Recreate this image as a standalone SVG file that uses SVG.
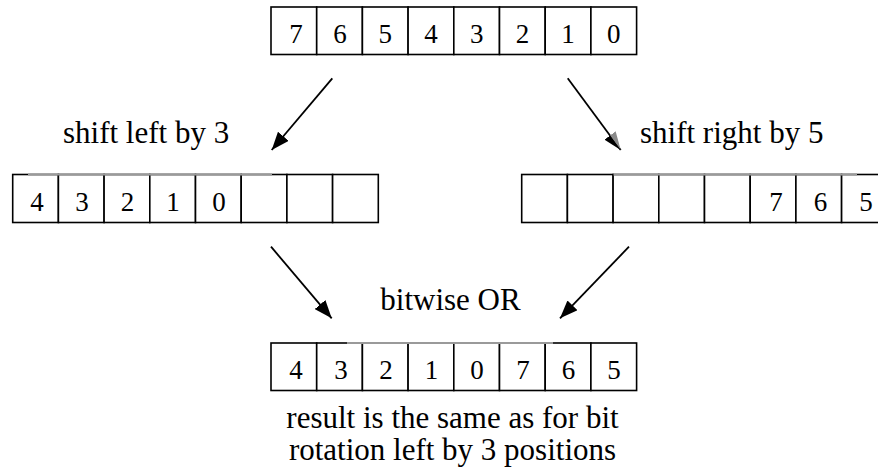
<svg xmlns="http://www.w3.org/2000/svg" width="878" height="474" viewBox="0 0 878 474">
  <style>
    .cell { fill: #ffffff; stroke: #000000; stroke-width: 1.6; }
    .edge-soft { stroke: #9a9a9a; stroke-width: 1.8; fill: none; }
    .digit { font-family: "Liberation Serif", Tinos, "Times New Roman", Times, "DejaVu Serif", serif; font-size: 27px; fill: #000000; text-anchor: middle; }
    .label { font-family: "Liberation Serif", Tinos, "Times New Roman", Times, "DejaVu Serif", serif; font-size: 31px; fill: #000000; }
    .conn { stroke: #000000; stroke-width: 1.8; fill: none; }
  </style>
  <defs>
    <marker id="head" viewBox="0 0 18 14" refX="18" refY="7" markerWidth="18" markerHeight="14" markerUnits="userSpaceOnUse" orient="auto">
      <path d="M0,0 L18,7 L0,14 z" fill="#000000"/>
    </marker>
    <marker id="head-split" viewBox="0 0 18 14" refX="18" refY="7" markerWidth="18" markerHeight="14" markerUnits="userSpaceOnUse" orient="auto">
      <path d="M0,0 L18,7 L0,7 z" fill="#8a8a8a"/>
      <path d="M0,7 L18,7 L0,14 z" fill="#000000"/>
    </marker>
  </defs>

  <!-- original byte: bits 7..0 -->
  <g id="byte-original">
    <rect class="cell" x="271" y="7" width="45.7" height="47.5"/>
    <rect class="cell" x="316.7" y="7" width="45.7" height="47.5"/>
    <rect class="cell" x="362.4" y="7" width="45.7" height="47.5"/>
    <rect class="cell" x="408.1" y="7" width="45.7" height="47.5"/>
    <rect class="cell" x="453.8" y="7" width="45.7" height="47.5"/>
    <rect class="cell" x="499.5" y="7" width="45.7" height="47.5"/>
    <rect class="cell" x="545.2" y="7" width="45.7" height="47.5"/>
    <rect class="cell" x="590.9" y="7" width="45.7" height="47.5"/>
    <text class="digit" x="296" y="43">7</text>
    <text class="digit" x="340" y="43">6</text>
    <text class="digit" x="385.3" y="43">5</text>
    <text class="digit" x="431" y="43">4</text>
    <text class="digit" x="476.7" y="43">3</text>
    <text class="digit" x="522.4" y="43">2</text>
    <text class="digit" x="568.1" y="43">1</text>
    <text class="digit" x="613.8" y="43">0</text>
  </g>

  <!-- shifted left by 3 -->
  <g id="byte-shl">
    <rect class="cell" x="12.7" y="174.5" width="45.7" height="48"/>
    <rect class="cell" x="58.4" y="174.5" width="45.7" height="48"/>
    <rect class="cell" x="104.1" y="174.5" width="45.7" height="48"/>
    <rect class="cell" x="149.8" y="174.5" width="45.7" height="48"/>
    <rect class="cell" x="195.5" y="174.5" width="45.7" height="48"/>
    <rect class="cell" x="241.2" y="174.5" width="45.7" height="48"/>
    <rect class="cell" x="286.9" y="174.5" width="45.7" height="48"/>
    <rect class="cell" x="332.6" y="174.5" width="45.7" height="48"/>
    <line class="edge-soft" x1="28" y1="174.5" x2="272" y2="174.5"/>
    <text class="digit" x="37" y="211">4</text>
    <text class="digit" x="82" y="211">3</text>
    <text class="digit" x="127.5" y="211">2</text>
    <text class="digit" x="173" y="211">1</text>
    <text class="digit" x="219" y="211">0</text>
  </g>

  <!-- shifted right by 5 -->
  <g id="byte-shr">
    <rect class="cell" x="521.7" y="174.5" width="45.7" height="48"/>
    <rect class="cell" x="567.4" y="174.5" width="45.7" height="48"/>
    <rect class="cell" x="613.1" y="174.5" width="45.7" height="48"/>
    <rect class="cell" x="658.8" y="174.5" width="45.7" height="48"/>
    <rect class="cell" x="704.5" y="174.5" width="45.7" height="48"/>
    <rect class="cell" x="750.2" y="174.5" width="45.7" height="48"/>
    <rect class="cell" x="795.9" y="174.5" width="45.7" height="48"/>
    <rect class="cell" x="841.6" y="174.5" width="45.7" height="48"/>
    <line class="edge-soft" x1="613.5" y1="174.5" x2="857" y2="174.5"/>
    <text class="digit" x="776" y="211">7</text>
    <text class="digit" x="820.5" y="211">6</text>
    <text class="digit" x="866" y="211">5</text>
  </g>

  <!-- OR result -->
  <g id="byte-result">
    <rect class="cell" x="271" y="343" width="45.7" height="47.5"/>
    <rect class="cell" x="316.7" y="343" width="45.7" height="47.5"/>
    <rect class="cell" x="362.4" y="343" width="45.7" height="47.5"/>
    <rect class="cell" x="408.1" y="343" width="45.7" height="47.5"/>
    <rect class="cell" x="453.8" y="343" width="45.7" height="47.5"/>
    <rect class="cell" x="499.5" y="343" width="45.7" height="47.5"/>
    <rect class="cell" x="545.2" y="343" width="45.7" height="47.5"/>
    <rect class="cell" x="590.9" y="343" width="45.7" height="47.5"/>
    <line class="edge-soft" x1="347" y1="343" x2="553" y2="343"/>
    <text class="digit" x="296" y="379">4</text>
    <text class="digit" x="341" y="379">3</text>
    <text class="digit" x="386" y="379">2</text>
    <text class="digit" x="431.5" y="379">1</text>
    <text class="digit" x="477" y="379">0</text>
    <text class="digit" x="523" y="379">7</text>
    <text class="digit" x="568.5" y="379">6</text>
    <text class="digit" x="614" y="379">5</text>
  </g>

  <!-- operation labels -->
  <g id="label-shl">
    <text class="label" x="63" y="143">shift left by 3</text>
  </g>
  <g id="label-shr">
    <text class="label" x="640" y="143">shift right by 5</text>
  </g>
  <g id="label-or">
    <text class="label" x="450.5" y="310" text-anchor="middle">bitwise OR</text>
  </g>
  <g id="label-result">
    <text class="label" x="452.5" y="428" text-anchor="middle">result is the same as for bit</text>
    <text class="label" x="452.5" y="460" text-anchor="middle">rotation left by 3 positions</text>
  </g>

  <!-- connectors -->
  <g id="connectors">
    <line class="conn" x1="332.3" y1="78.3" x2="271.7" y2="150" marker-end="url(#head)"/>
    <line class="conn" x1="567.7" y1="78.3" x2="620.7" y2="150" marker-end="url(#head-split)"/>
    <line class="conn" x1="271" y1="246.7" x2="331.7" y2="318.3" marker-end="url(#head)"/>
    <line class="conn" x1="629" y1="246.7" x2="560" y2="318.3" marker-end="url(#head)"/>
  </g>
</svg>
